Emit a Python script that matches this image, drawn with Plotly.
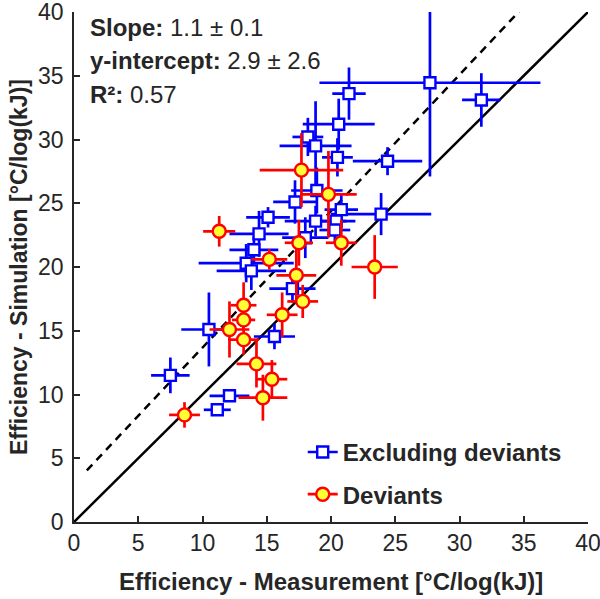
import plotly.graph_objects as go

# Excluding deviants (blue squares)
x_blue = [27.7, 21.4, 31.7, 20.6, 18.2, 18.8, 20.5, 24.4, 18.9, 17.2, 20.8, 23.9, 15.1, 18.8,
          20.4, 20.3, 14.4, 18.0, 14.0, 13.4, 13.8, 17.0, 15.6, 10.5, 7.5, 12.1, 11.15]
y_blue = [34.45, 33.6, 33.1, 31.2, 30.2, 29.5, 28.6, 28.3, 26.0, 25.1, 24.5, 24.15, 23.9, 23.6,
          23.6, 22.9, 22.6, 22.3, 21.35, 20.3, 19.7, 18.3, 14.55, 15.1, 11.5, 9.9, 8.8]
xerr_blue = [8.6, 1.3, 1.5, 2.8, 1.2, 2.8, 1.2, 2.7, 2.0, 1.7, 1.3, 3.9, 1.7, 2.4,
             1.5, 1.2, 2.3, 1.8, 1.9, 3.7, 2.7, 1.8, 1.6, 2.15, 1.5, 1.55, 1.05]
yerr_blue = [7.35, 2.05, 2.1, 2.0, 1.5, 3.5, 1.5, 1.1, 1.8, 1.7, 1.2, 1.65, 0.8, 1.2,
             1.0, 1.0, 1.8, 1.6, 1.0, 1.5, 1.5, 1.1, 1.0, 2.9, 1.4, 0.3, 0.3]

# Deviants (red/yellow circles)
x_red = [17.7, 19.8, 11.3, 17.5, 20.8, 15.2, 17.3, 23.4, 17.8, 13.2, 16.2, 13.2, 12.1,
         13.2, 14.2, 15.4, 14.7, 8.6]
y_red = [27.6, 25.7, 22.8, 21.9, 21.9, 20.6, 19.35, 20.0, 17.3, 17.0, 16.25, 15.85, 15.1,
         14.3, 12.4, 11.2, 9.75, 8.4]
xerr_red = [3.25, 2.2, 1.25, 1.1, 1.2, 1.4, 1.55, 1.8, 1.2, 1.0, 1.2, 0.9, 1.55,
            1.2, 1.55, 1.2, 1.9, 1.2]
yerr_red = [2.9, 3.4, 1.2, 1.8, 1.8, 0.8, 2.1, 2.5, 1.3, 1.8, 1.75, 0.9, 2.2,
            1.2, 1.85, 1.5, 1.8, 1.0]

# fit and 1:1 line
slope, intercept = 1.07, 2.98
fit_x = [1, 36]
diag = [0, 40]

stats_text = ["<b>Slope:</b> 1.1 ± 0.1", "<b>y-intercept:</b> 2.9 ± 2.6", "<b>R²:</b> 0.57"]

txt = '#262626'
font_name = 'Liberation Sans, Arial'

fig = go.Figure()

fig.add_trace(go.Scatter(
    x = diag, y = diag, mode = 'lines',
    line = dict(color = 'black', width = 2.5), showlegend = False, hoverinfo = 'skip'))

fig.add_trace(go.Scatter(
    x = fit_x, y = [slope * v + intercept for v in fit_x], mode = 'lines',
    line = dict(color = 'black', width = 2.5, dash = '8px,6px'), showlegend = False, hoverinfo = 'skip'))

fig.add_trace(go.Scatter(
    x = x_blue, y = y_blue, mode = 'markers', showlegend = False,
    error_x = dict(type = 'data', array = xerr_blue, color = '#0000FF', thickness = 2.7, width = 0),
    error_y = dict(type = 'data', array = yerr_blue, color = '#0000FF', thickness = 2.7, width = 0),
    marker = dict(symbol = 'square', size = 11, color = 'white', line = dict(color = '#0000FF', width = 2.4))))

fig.add_trace(go.Scatter(
    x = x_red, y = y_red, mode = 'markers', showlegend = False,
    error_x = dict(type = 'data', array = xerr_red, color = '#FF0000', thickness = 2.7, width = 0),
    error_y = dict(type = 'data', array = yerr_red, color = '#FF0000', thickness = 2.7, width = 0),
    marker = dict(symbol = 'circle', size = 13, color = '#FFFF33', line = dict(color = '#FF0000', width = 2.4))))

# legend entries
fig.add_trace(go.Scatter(
    x = [None], y = [None], mode = 'lines+markers', name = '<b>Excluding deviants</b>', legendgroup = 'a',
    line = dict(color = '#0000FF', width = 2.7),
    marker = dict(symbol = 'square', size = 11, color = 'white', line = dict(color = '#0000FF', width = 2.4))))
fig.add_trace(go.Scatter(
    x = [None], y = [None], mode = 'lines+markers', name = '<b>Deviants</b>', legendgroup = 'b',
    line = dict(color = '#FF0000', width = 2.7),
    marker = dict(symbol = 'circle', size = 13, color = '#FFFF33', line = dict(color = '#FF0000', width = 2.4))))

for i, t in enumerate(stats_text):
    fig.add_annotation(
        x = 0.027, y = 0.97 - 0.066 * i, xref = 'paper', yref = 'paper',
        xanchor = 'left', yanchor = 'middle',
        text = t, showarrow = False, align = 'left',
        font = dict(size = 24, color = txt, family = font_name))

# axis titles
fig.add_annotation(
    x = 0.5, y = -0.117, xref = 'paper', yref = 'paper', xanchor = 'center', yanchor = 'middle',
    text = '<b>Efficiency - Measurement [°C/log(kJ)]</b>', showarrow = False,
    font = dict(size = 24, color = txt, family = font_name))
fig.add_annotation(
    x = -0.107, y = 0.5, xref = 'paper', yref = 'paper', xanchor = 'center', yanchor = 'middle',
    text = '<b>Efficiency - Simulation [°C/log(kJ)]</b>', showarrow = False, textangle = -90,
    font = dict(size = 23, color = txt, family = font_name))

axis_common = dict(
    range = [0, 40], dtick = 5, ticks = 'inside', ticklen = 6, tickwidth = 1.5, tickcolor = txt,
    showline = True, linecolor = txt, linewidth = 1.5, showgrid = False, zeroline = False,
    automargin = False, ticklabeloverflow = 'allow',
    tickfont = dict(size = 23, color = txt, family = font_name))

fig.update_layout(
    width = 600, height = 599,
    margin = dict(l = 74, r = 12, t = 12, b = 77),
    plot_bgcolor = 'white', paper_bgcolor = 'white',
    font = dict(family = font_name, color = txt),
    xaxis = dict(axis_common),
    yaxis = dict(axis_common, ticklabelstandoff = 4),
    legend = dict(
        x = 0.445, y = 0.01, xanchor = 'left', yanchor = 'bottom',
        bgcolor = 'rgba(0,0,0,0)', font = dict(size = 24, color = txt, family = font_name),
        traceorder = 'grouped', tracegroupgap = 8, itemwidth = 30),
    showlegend = True)

# drop the default page margin so the figure starts at the window corner
fig.write_html("out.html", config = {'displayModeBar': False},
               post_script = "document.body.style.margin = '0';")
